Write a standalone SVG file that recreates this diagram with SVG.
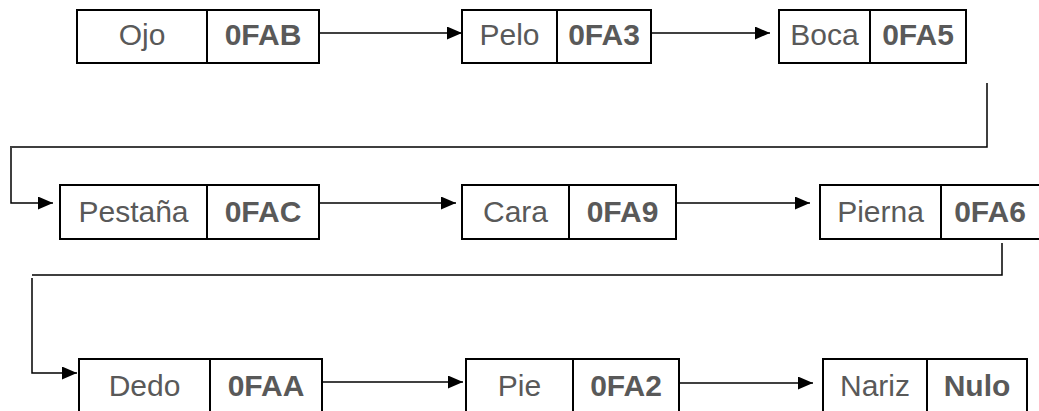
<svg xmlns="http://www.w3.org/2000/svg" width="1039" height="411" viewBox="0 0 1039 411">
<style>
.box{fill:#fff;stroke:#000;stroke-width:2}
.div{stroke:#000;stroke-width:2}
.t{font-family:"Liberation Sans",Arial,sans-serif;font-size:30px;fill:#595959;text-anchor:middle}
.b{font-weight:bold}
.c{fill:none;stroke:#000;stroke-width:1.5}
</style>
<defs>
<marker id="ah" markerUnits="userSpaceOnUse" markerWidth="15" markerHeight="13" refX="15" refY="6.5" orient="auto">
<path d="M0,0 L15,6.5 L0,13 z" fill="#000"/>
</marker>
</defs>
<g id="connectors">
<line class="c" x1="306" y1="33" x2="462" y2="33" marker-end="url(#ah)"/>
<line class="c" x1="638" y1="33" x2="770" y2="33" marker-end="url(#ah)"/>
<polyline class="c" points="987,83 987,147 10,147"/>
<polyline class="c" points="11,148 11,203 53,203" marker-end="url(#ah)"/>
<line class="c" x1="305" y1="203" x2="456" y2="203" marker-end="url(#ah)"/>
<line class="c" x1="662" y1="203" x2="810" y2="203" marker-end="url(#ah)"/>
<polyline class="c" points="1002,243 1002,275 32,275"/>
<polyline class="c" points="32,278 32,373 77,373" marker-end="url(#ah)"/>
<line class="c" x1="310" y1="382" x2="463" y2="382" marker-end="url(#ah)"/>
<line class="c" x1="667" y1="383" x2="813" y2="383" marker-end="url(#ah)"/>
</g>
<g id="node-ojo">
<rect class="box" x="77" y="10" width="242" height="53"/>
<line class="div" x1="207" y1="10" x2="207" y2="63"/>
<text class="t" x="142" y="45">Ojo</text>
<text class="t b" x="263" y="45">0FAB</text>
</g>
<g id="node-pelo">
<rect class="box" x="462" y="10" width="189" height="53"/>
<line class="div" x1="557" y1="10" x2="557" y2="63"/>
<text class="t" x="509.5" y="45">Pelo</text>
<text class="t b" x="604" y="45">0FA3</text>
</g>
<g id="node-boca">
<rect class="box" x="779" y="10" width="187" height="53"/>
<line class="div" x1="870" y1="10" x2="870" y2="63"/>
<text class="t" x="824.5" y="45">Boca</text>
<text class="t b" x="918" y="45">0FA5</text>
</g>
<g id="node-pestana">
<rect class="box" x="60" y="185" width="259" height="54"/>
<line class="div" x1="207" y1="185" x2="207" y2="239"/>
<text class="t" x="133.5" y="222">Pestaña</text>
<text class="t b" x="263" y="222">0FAC</text>
</g>
<g id="node-cara">
<rect class="box" x="462" y="185" width="214" height="54"/>
<line class="div" x1="569" y1="185" x2="569" y2="239"/>
<text class="t" x="515.5" y="222">Cara</text>
<text class="t b" x="622.5" y="222">0FA9</text>
</g>
<g id="node-pierna">
<rect class="box" x="820" y="185" width="222" height="54"/>
<line class="div" x1="941" y1="185" x2="941" y2="239"/>
<text class="t" x="880.5" y="222">Pierna</text>
<text class="t b" x="990" y="222">0FA6</text>
</g>
<g id="node-dedo">
<rect class="box" x="79" y="359" width="243" height="60"/>
<line class="div" x1="210" y1="359" x2="210" y2="419"/>
<text class="t" x="144.5" y="396">Dedo</text>
<text class="t b" x="266" y="396">0FAA</text>
</g>
<g id="node-pie">
<rect class="box" x="466" y="359" width="213" height="60"/>
<line class="div" x1="573" y1="359" x2="573" y2="419"/>
<text class="t" x="519.5" y="396">Pie</text>
<text class="t b" x="626" y="396">0FA2</text>
</g>
<g id="node-nariz">
<rect class="box" x="823" y="359" width="204" height="60"/>
<line class="div" x1="927" y1="359" x2="927" y2="419"/>
<text class="t" x="875" y="396">Nariz</text>
<text class="t b" x="977" y="396">Nulo</text>
</g>
</svg>
